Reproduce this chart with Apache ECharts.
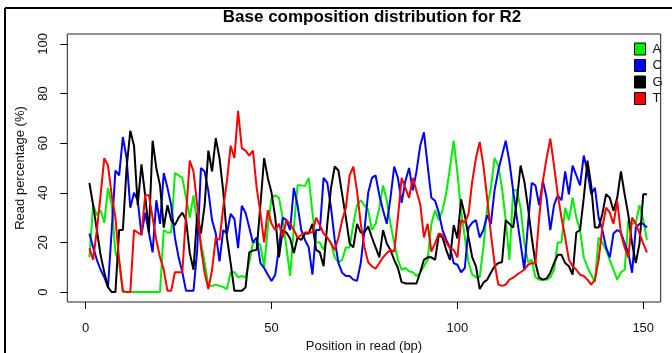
<!DOCTYPE html>
<html>
<head>
<meta charset="utf-8">
<script src="https://cdn.jsdelivr.net/npm/echarts@6/dist/echarts.min.js"></script>
<style>
html,body{margin:0;padding:0;background:#fff;}
#chart{width:672px;height:353px;}
</style>
</head>
<body>
<div id="chart"></div>
<script>
// Base composition (%) per position in read, positions 1..151
const seriesNames = ['A', 'C', 'G', 'T'];
const seriesColors = ['#00ee00', '#0000ff', '#000000', '#ff0000'];

const valuesA = [14,35,31,33,28,42,35,16,12,0, 0,0,0,0,0,0,0,0,0,0,
  25,24,24,48,47,46,38,30,39,28, 20,12,2.5,2.5,3,2.5,2,1.2,8,8,
  6,6.5,6,12,20,20,19,10,26,38, 39,38,30,18,6.5,26,43,43,42.7,46,
  32,20,20,17,22,20,14,12,13,18, 18,27.5,35,37,35,33,25,27.5,34,43,
  37,27.5,20,13,9,9.7,8.4,8,6.5,7.8, 10.4,13,27.5,33,29,33,40,50,61,48,
  33,22,12,7,6,6,18,34,42,54, 51,42,29,13,41,41,34,20,12,13,
  6,5,5,5,6,9,20,20,34,29, 38,30,25,14,10,7,4,22,20,17,
  13,9,5,8,9,29,27.5,28,35,29, 21];

const valuesC = [23.6,18,13,9,6,2,25,49,47,62.5, 54,34,40,37,23,32,24,16,37,27.5,
  48,42,35,22,14,8,0.5,0.5,0.5,17, 50,48.6,40.7,29,23.6,12.4,25,23.6,31.5,29.5,
  17.7,34.8,32,26,20,22,11.7,9.7,7,4.5, 7,18,30,29,25,42,35,25,21,18,
  7,25,25,46,44,34,21,11.7,7.8,6.5, 6.5,5,4.5,11.7,25,40,46,47,39,33,
  27.5,38,50.6,46,36,44.7,50,41,48.6,59, 64.4,51,38,36.8,32,25,21,18,11.7,11,
  8,9.7,26,28,29,22,25,31,27.5,41, 49,55,61,52.5,41,30,19.6,9,27.5,44,
  43,35,44.7,38,25,35,39,37,48.6,39.4, 51,47,43,55,48.6,39.4,42,30,25,18,
  14,23.6,25,24,19.6,15.7,7.8,26,27.5,27.5, 26];

const valuesG = [44,35,25,15,8,2,0,0,25,25, 50,65,59,35,51.5,39,24,61,50,43,
  26,35,29,27,30,32,29,15.7,9,31.5, 23.6,35,57,48.6,62,54,40.7,22,11.7,0.5,
  0.5,0.5,1.8,16,16.7,17,35,54,46,40, 30,14,25,24,21.6,15.7,22,21,23.6,23.6,
  27.5,17,16,10.4,27.5,42,50.6,49,39.4,30, 19.6,18,27.5,24,24,26.5,22,18,14,25,
  19.6,17,13,9.7,4,3.5,3.5,3.5,3.5,8, 13,14,14,13,23,22,17,13,27,21.6,
  37.4,31,22,14,10.4,1.2,3.8,5,7.8,10.4, 11.7,12,29,27.5,26,36.8,51,44.7,34,22,
  11.7,5.8,5,5.5,7.8,11.7,15,15,11.7,10.4, 7,24,25,38,53,43,26,26,31.5,39.4,
  38,32.8,38,48.6,39.4,31,19.6,11.7,19.6,39.4, 39.4];

const valuesT = [17.7,13,25,39,54,51,39,30,13,0.5, 0,0,25,24,23,39,39,30,21,14,
  9,0.5,0.5,8,8,8,31.5,53,48.6,35, 18,7.8,1.2,9,22,21,34,44.7,59,54,
  73,58,57,55,57,42,32,20,33,27.5, 25,27.5,22,29,27.5,25,22,23,24,24,
  24,30,27,23.6,22,19.6,17,22,29,34, 47,50.6,40.7,27.5,18,12,10.4,9.4,11.7,14,
  15.7,17,16.3,30,46,42,38,46,40.7,35.4, 22,27.5,16.3,19.6,23.6,23,20,17.7,17,14,
  29,28,31.5,44.7,54,60.5,51,38,23.6,11.7, 3,2.5,3,5,5.8,7,8,9,11,11.7,
  11.5,30,44.7,54,61.8,51,39.4,30,22,13, 10.4,9,7,6.5,5,3,5,13,26,34,
  32,27.5,36.8,23.6,18,14,30,27.5,23.6,19.6, 16];

const xTicks = [0, 50, 100, 150];
const yTicks = [0, 20, 40, 60, 80, 100];

const titleText = 'Base composition distribution for R2';
const xTitle = 'Position in read (bp)';
const yTitle = 'Read percentage (%)';

const allValues = [valuesA, valuesC, valuesG, valuesT];
const positions = valuesA.map((_, i) => i + 1);

const FONT = '"Liberation Sans", Arial, sans-serif';
const chart = echarts.init(document.getElementById('chart'), null, {renderer: 'canvas'});

const series = seriesNames.map((name, k) => ({
  name: name,
  type: 'line',
  data: positions.map((p, i) => [p, allValues[k][i]]),
  showSymbol: false,
  symbol: 'none',
  lineStyle: {color: seriesColors[k], width: 2},
  itemStyle: {color: seriesColors[k]},
  emphasis: {disabled: true},
  animation: false
}));

chart.setOption({
  animation: false,
  grid: {
    left: 67.3, top: 34, width: 593.4, height: 268,
    containLabel: false, outerBoundsMode: 'none',
    show: true, borderColor: '#222', borderWidth: 1, backgroundColor: 'transparent'
  },
  xAxis: {
    type: 'value', min: -4.95, max: 154.7,
    name: xTitle, nameLocation: 'middle', nameGap: 36,
    nameTextStyle: {fontFamily: FONT, fontSize: 13, color: '#111'},
    axisLine: {show: false, onZero: false},
    splitLine: {show: false},
    axisTick: {show: true, length: 7, customValues: xTicks, lineStyle: {color: '#000', width: 1}},
    axisLabel: {customValues: xTicks, margin: 20, fontFamily: FONT, fontSize: 13, color: '#111'}
  },
  yAxis: {
    type: 'value', min: -4, max: 104,
    name: yTitle, nameLocation: 'middle', nameGap: 40,
    nameTextStyle: {fontFamily: FONT, fontSize: 13, color: '#111'},
    axisLine: {show: false, onZero: false},
    splitLine: {show: false},
    axisTick: {show: true, length: 7, customValues: yTicks, lineStyle: {color: '#000', width: 1}},
    axisLabel: {customValues: yTicks, rotate: 90, margin: 17, fontFamily: FONT, fontSize: 13, color: '#111'}
  },
  legend: {
    data: seriesNames,
    orient: 'vertical',
    left: 629, top: 37,
    icon: 'rect',
    itemWidth: 11, itemHeight: 12, itemGap: 2.5,
    lineStyle: {width: 0},
    itemStyle: {borderColor: '#000', borderWidth: 1},
    textStyle: {fontFamily: FONT, fontSize: 13, color: '#111', lineHeight: 14, padding: [0, 0, 0, 2]},
    selectedMode: false
  },
  graphic: [
    {type: 'text', x: 372, y: 17, style: {text: titleText, fill: '#000', font: 'bold 17px ' + FONT, textAlign: 'center', textVerticalAlign: 'middle'}},
    {type: 'line', shape: {x1: 5, y1: 8, x2: 672, y2: 8}, style: {stroke: '#000', lineWidth: 2}},
    {type: 'line', shape: {x1: 5, y1: 8, x2: 5, y2: 353}, style: {stroke: '#000', lineWidth: 2}}
  ],
  series: series
});
</script>
</body>
</html>
